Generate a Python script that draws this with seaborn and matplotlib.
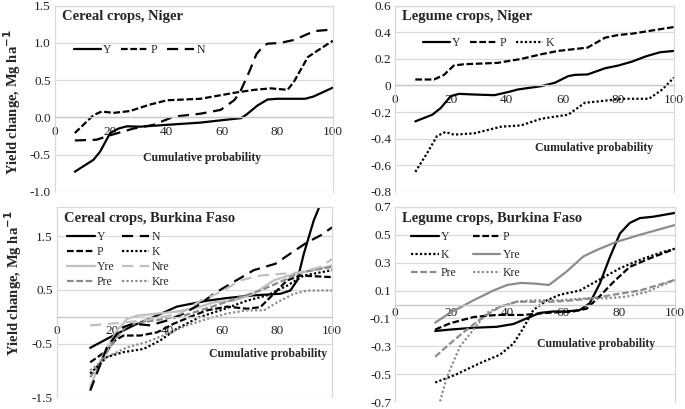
import matplotlib
matplotlib.use("Agg")
import matplotlib.pyplot as plt
import seaborn as sns

sns.set_theme(style="white")
plt.rcParams['font.family'] = ['Liberation Serif', 'DejaVu Serif']

# ---------------- data ----------------
# Cereal crops, Niger
cn_y_x = [7.2, 13.9, 16.3, 19.9, 22.9, 25.9, 30.7, 40.4, 52.4, 62, 67, 69, 72.9, 76.5, 80, 90, 93, 100]
cn_y = [-0.73, -0.57, -0.46, -0.21, -0.15, -0.12, -0.125, -0.10, -0.07, -0.03, -0.01, 0.04, 0.16, 0.24, 0.25, 0.25, 0.28, 0.40]
cn_p_x = [7.2, 13.9, 16.9, 21, 27, 34, 40.4, 52.4, 64.5, 71.7, 77.7, 83.7, 86, 91, 94.6, 100]
cn_p = [-0.21, 0.03, 0.08, 0.06, 0.085, 0.17, 0.23, 0.25, 0.33, 0.37, 0.39, 0.37, 0.48, 0.81, 0.90, 1.03]
cn_n_x = [7.2, 15, 19.9, 28.3, 35.5, 42.8, 52.4, 59.6, 64.5, 66.5, 70, 72.5, 75, 76.5, 81, 86, 93.4, 100]
cn_n = [-0.31, -0.30, -0.24, -0.15, -0.10, 0.01, 0.05, 0.10, 0.23, 0.33, 0.62, 0.85, 0.96, 0.99, 1.0, 1.04, 1.16, 1.18]

# Legume crops, Niger
ln_y_x = [7.2, 13.3, 16.3, 19.9, 22.9, 28.3, 35.5, 40.4, 44, 52.4, 57.2, 62, 64.5, 69, 75.3, 80, 85, 90, 95, 100]
ln_y = [-0.27, -0.22, -0.17, -0.08, -0.063, -0.068, -0.073, -0.05, -0.03, -0.005, 0.02, 0.07, 0.08, 0.083, 0.13, 0.15, 0.18, 0.22, 0.25, 0.26]
ln_p_x = [7.2, 13.9, 17.5, 21, 24.7, 36.7, 45.2, 52.4, 58.4, 66.9, 69, 75.3, 80, 85, 91, 100]
ln_p = [0.045, 0.045, 0.08, 0.15, 0.16, 0.17, 0.20, 0.235, 0.26, 0.28, 0.285, 0.36, 0.38, 0.39, 0.41, 0.44]
ln_k_x = [7.2, 11.4, 15, 18, 21, 28.3, 38, 45.2, 52.4, 62, 68, 72.9, 81.3, 91, 95.8, 100]
ln_k = [-0.65, -0.51, -0.38, -0.35, -0.37, -0.36, -0.31, -0.30, -0.25, -0.22, -0.13, -0.12, -0.10, -0.10, -0.03, 0.06]

# Cereal crops, Burkina Faso
cb_y_x = [12.1, 19.4, 27.9, 36.4, 43.6, 48.5, 54.5, 61.8, 71.5, 81.2, 84.8, 87.3, 89.7, 93.3, 96.5]
cb_y = [-0.58, -0.38, -0.16, 0.025, 0.19, 0.24, 0.30, 0.35, 0.40, 0.43, 0.49, 0.68, 1.18, 1.8, 2.2]
cb_n_x = [12.1, 14.5, 18.2, 21.8, 24.2, 27.9, 33.9, 40, 46, 52.1, 57, 64.2, 71.5, 79.4, 84.8, 90.9, 95.8, 100]
cb_n = [-1.38, -1.06, -0.57, -0.32, -0.19, -0.13, -0.16, -0.07, 0.06, 0.24, 0.43, 0.65, 0.87, 0.99, 1.18, 1.39, 1.52, 1.67]
cb_p_x = [12.1, 18.2, 21.2, 24.2, 30.3, 36.4, 42.4, 48.5, 54.5, 61.8, 69, 73.9, 78.8, 83.6, 88.5, 100]
cb_p = [-0.85, -0.63, -0.44, -0.35, -0.35, -0.29, -0.13, 0.0, 0.12, 0.19, 0.15, 0.18, 0.43, 0.68, 0.77, 0.74]
cb_k_x = [12.1, 18.2, 24.2, 31.5, 37.6, 43.6, 52.1, 59.4, 69, 76.4, 83.6, 89.7, 100]
cb_k = [-1.06, -0.75, -0.66, -0.60, -0.44, -0.22, 0.0, 0.12, 0.30, 0.40, 0.58, 0.77, 0.87]
cb_yre_x = [12.1, 17, 21.8, 25.5, 29.1, 36.4, 42.4, 49.7, 57, 64.2, 71.5, 78.8, 86.1, 93.3, 100]
cb_yre = [-1.31, -0.69, -0.26, -0.04, 0.02, 0.06, 0.09, 0.15, 0.27, 0.30, 0.43, 0.68, 0.80, 0.87, 0.96]
cb_nre_x = [12.1, 19.4, 25.5, 31.5, 37.6, 44.8, 52.1, 59.4, 66.7, 73.9, 81.2, 88.5, 95.8, 100]
cb_nre = [-0.16, -0.13, -0.10, -0.07, -0.01, 0.06, 0.30, 0.46, 0.68, 0.77, 0.80, 0.83, 0.93, 1.08]
cb_pre_x = [12.1, 17, 21.8, 25.5, 31.5, 38.8, 46, 52.1, 59.4, 66.7, 73.9, 82.4, 88.5, 100]
cb_pre = [-1.13, -0.75, -0.38, -0.16, -0.10, -0.04, 0.02, 0.12, 0.24, 0.37, 0.49, 0.68, 0.83, 0.93]
cb_kre_x = [12.1, 18.2, 25.5, 32.7, 40, 47.3, 54.5, 61.8, 69, 75.2, 80, 86.1, 90.9, 100]
cb_kre = [-1.0, -0.75, -0.57, -0.47, -0.32, -0.16, -0.04, 0.06, 0.12, 0.12, 0.27, 0.43, 0.49, 0.49]

# Legume crops, Burkina Faso
lb_y_x = [14.3, 19.6, 28, 36.3, 42.3, 47, 51.8, 56.5, 61.3, 66, 69.6, 73.2, 76.8, 80.4, 83.9, 87.5, 92.3, 100]
lb_y = [-0.19, -0.18, -0.167, -0.16, -0.14, -0.10, -0.06, -0.05, -0.05, -0.04, 0.01, 0.15, 0.34, 0.51, 0.585, 0.62, 0.63, 0.657]
lb_p_x = [14.3, 19.6, 28, 36.3, 45.8, 54.2, 63.7, 68.5, 73.2, 78, 83.9, 91, 100]
lb_p = [-0.18, -0.135, -0.09, -0.075, -0.075, -0.06, -0.05, -0.03, 0.06, 0.16, 0.27, 0.33, 0.40]
lb_k_x = [14.3, 22, 30.4, 37.5, 42.3, 45.8, 49.4, 54.2, 58.9, 66, 73.2, 80.4, 87.5, 94.6, 100]
lb_k = [-0.56, -0.50, -0.42, -0.36, -0.28, -0.17, -0.04, 0.03, 0.07, 0.10, 0.18, 0.26, 0.32, 0.37, 0.40]
lb_yre_x = [14.3, 19.6, 28, 35.1, 40, 45, 50, 55, 61.3, 67.3, 72, 79.2, 87.5, 100]
lb_yre = [-0.13, -0.06, 0.03, 0.10, 0.14, 0.155, 0.15, 0.14, 0.236, 0.345, 0.39, 0.45, 0.50, 0.57]
lb_pre_x = [14.3, 19.6, 25.6, 31.5, 37.5, 43.5, 49.4, 56.5, 63.7, 70.8, 78, 87.5, 100]
lb_pre = [-0.375, -0.28, -0.18, -0.09, -0.016, 0.02, 0.02, 0.02, 0.03, 0.045, 0.07, 0.10, 0.176]
lb_kre_x = [14.3, 18.5, 23.2, 28, 32.7, 37.5, 43.5, 49.4, 58.9, 68.5, 75.6, 82.7, 89.9, 100]
lb_kre = [-0.82, -0.52, -0.30, -0.18, -0.06, -0.016, 0.02, 0.03, 0.03, 0.045, 0.045, 0.056, 0.09, 0.176]

x_ticks = [0, 20, 40, 60, 80, 100]
cn_yticks = [-1.0, -0.5, 0.0, 0.5, 1.0, 1.5]
cn_ylabels = ['-1.0', '-0.5', '0.0', '0.5', '1.0', '1.5']
ln_yticks = [-0.8, -0.6, -0.4, -0.2, 0, 0.2, 0.4, 0.6]
ln_ylabels = ['-0.8', '-0.6', '-0.4', '-0.2', '0', '0.2', '0.4', '0.6']
cb_yticks = [-1.5, -0.5, 0.5, 1.5]
cb_ylabels = ['-1.5', '-0.5', '0.5', '1.5']
lb_yticks = [-0.7, -0.5, -0.3, -0.1, 0.1, 0.3, 0.5, 0.7]
lb_ylabels = ['-0.7', '-0.5', '-0.3', '-0.1', '0.1', '0.3', '0.5', '0.7']

# ---------------- styles ----------------
BLACK = '#000000'
LGRAY = '#bfbfbf'
MGRAY = '#8c8c8c'
GRID = '#d9d9d9'
solid = '-'
sdash = (0, (3, 1.2))
ldash = (0, (5, 3))
dot = (0, (1, 1))

fig = plt.figure(figsize=(6.85, 4.09), dpi=100)
ax_cn = fig.add_axes([0.080, 0.531, 0.406, 0.455])
ax_ln = fig.add_axes([0.577, 0.531, 0.407, 0.455])
ax_cb = fig.add_axes([0.083, 0.029, 0.402, 0.465])
ax_lb = fig.add_axes([0.577, 0.017, 0.408, 0.477])


def line(ax, x, y, label, color, ls, lw=1.6):
    sns.lineplot(x=x, y=y, ax=ax, color=color, linestyle=ls, linewidth=lw,
                 label=label, sort=False, estimator=None)


def style(ax, ylim, yticks, ylabels, title, cp_xy, xpad=6):
    ax.set_xlim(0, 100)
    ax.set_ylim(*ylim)
    ax.set_yticks(yticks)
    ax.set_yticklabels(ylabels)
    ax.set_xticks(x_ticks)
    ax.set_xticklabels([str(t) for t in x_ticks])
    ax.tick_params(axis='both', length=0, labelsize=9.5, colors='#222222', pad=3)
    ax.tick_params(axis='x', pad=xpad)
    ax.yaxis.grid(True, color=GRID, linewidth=0.9)
    ax.xaxis.grid(False)
    for s in ['left', 'right', 'top']:
        ax.spines[s].set_color(GRID)
        ax.spines[s].set_linewidth(0.9)
    ax.spines['bottom'].set_position(('data', 0))
    ax.spines['bottom'].set_color('#c8c8c8')
    ax.spines['bottom'].set_linewidth(1.0)
    ax.set_xlabel('')
    ax.set_ylabel('')
    ax.text(0.025, 0.94, title, transform=ax.transAxes, fontsize=10.5,
            fontweight='bold', va='center', ha='left')
    ax.text(cp_xy[0], cp_xy[1], 'Cumulative probability', fontsize=8.5,
            fontweight='bold', ha='center', va='center')


leg_kw = dict(frameon=False, fontsize=8.5, handlelength=2.3, handletextpad=0.2)

# Cereal crops, Niger
line(ax_cn, cn_y_x, cn_y, 'Y', BLACK, solid)
line(ax_cn, cn_p_x, cn_p, 'P', BLACK, sdash)
line(ax_cn, cn_n_x, cn_n, 'N', BLACK, ldash)
style(ax_cn, (-1.0, 1.5), cn_yticks, cn_ylabels, 'Cereal crops, Niger', (53, -0.55))
ax_cn.legend(loc='upper left', bbox_to_anchor=(0.03, 0.85), ncol=3,
             columnspacing=0.8, **leg_kw)

# Legume crops, Niger
line(ax_ln, ln_y_x, ln_y, 'Y', BLACK, solid)
line(ax_ln, ln_p_x, ln_p, 'P', BLACK, sdash)
line(ax_ln, ln_k_x, ln_k, 'K', BLACK, dot)
style(ax_ln, (-0.8, 0.6), ln_yticks, ln_ylabels, 'Legume crops, Niger', (71.3, -0.47))
ax_ln.legend(loc='upper left', bbox_to_anchor=(0.06, 0.89), ncol=3,
             columnspacing=0.8, **leg_kw)

# Cereal crops, Burkina Faso
line(ax_cb, cb_y_x, cb_y, 'Y', BLACK, solid)
line(ax_cb, cb_p_x, cb_p, 'P', BLACK, sdash)
line(ax_cb, cb_yre_x, cb_yre, 'Yre', LGRAY, solid)
line(ax_cb, cb_pre_x, cb_pre, 'Pre', MGRAY, sdash)
line(ax_cb, cb_n_x, cb_n, 'N', BLACK, ldash)
line(ax_cb, cb_k_x, cb_k, 'K', BLACK, dot)
line(ax_cb, cb_nre_x, cb_nre, 'Nre', LGRAY, ldash)
line(ax_cb, cb_kre_x, cb_kre, 'Kre', MGRAY, dot)
style(ax_cb, (-1.5, 2.05), cb_yticks, cb_ylabels, 'Cereal crops, Burkina Faso', (76.7, -0.69))
ax_cb.legend(loc='upper left', bbox_to_anchor=(0.0, 0.93), ncol=2,
             columnspacing=0.6, labelspacing=0.25, **leg_kw)

# Legume crops, Burkina Faso
line(ax_lb, lb_y_x, lb_y, 'Y', BLACK, solid)
line(ax_lb, lb_k_x, lb_k, 'K', BLACK, dot)
line(ax_lb, lb_pre_x, lb_pre, 'Pre', MGRAY, sdash)
line(ax_lb, lb_p_x, lb_p, 'P', BLACK, sdash)
line(ax_lb, lb_yre_x, lb_yre, 'Yre', MGRAY, solid)
line(ax_lb, lb_kre_x, lb_kre, 'Kre', MGRAY, dot)
style(ax_lb, (-0.7, 0.7), lb_yticks, lb_ylabels, 'Legume crops, Burkina Faso', (72, -0.28), xpad=2)
ax_lb.legend(loc='upper left', bbox_to_anchor=(0.02, 0.93), ncol=2,
             columnspacing=1.4, labelspacing=0.5, **leg_kw)

ylab = 'Yield change, Mg ha$^{\\mathbf{-1}}$'
ax_cn.set_ylabel(ylab, fontsize=10.5, fontweight='bold')
ax_cn.yaxis.set_label_coords(-0.115, 0.48)
ax_cb.set_ylabel(ylab, fontsize=10.5, fontweight='bold')
ax_cb.yaxis.set_label_coords(-0.12, 0.6)

fig.savefig('out.png', dpi=100)
